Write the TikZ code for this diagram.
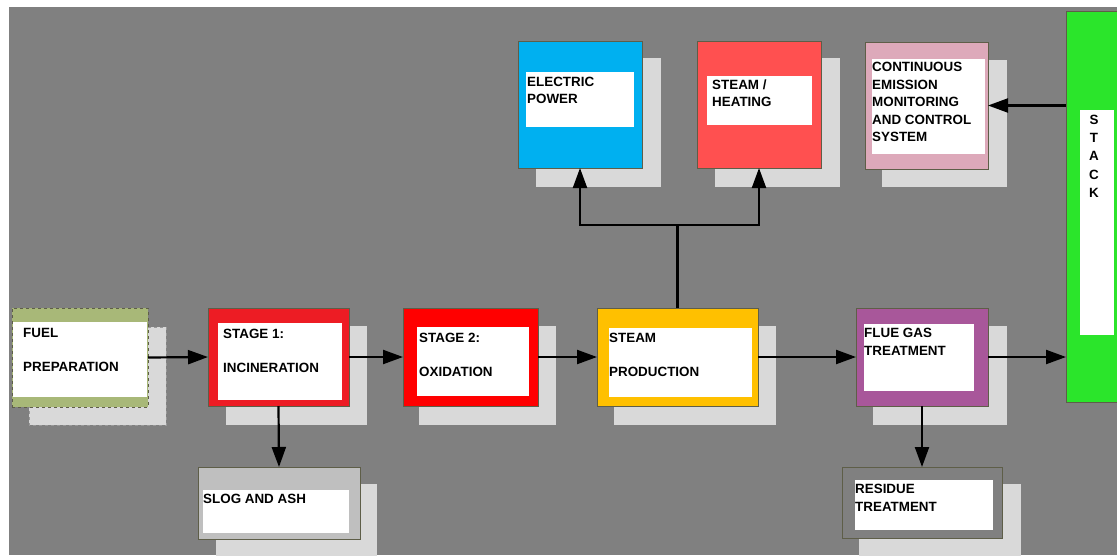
\documentclass[tikz,border=0pt]{standalone}
\usepackage{fontspec}
\setmainfont{Liberation Sans}
\usetikzlibrary{arrows.meta}
\definecolor{bgc}{HTML}{808080}
\definecolor{shadc}{HTML}{D9D9D9}
\definecolor{bordc}{HTML}{5E5E48}
\definecolor{fuelc}{HTML}{A8B878}
\definecolor{stoc}{HTML}{ED1C24}
\definecolor{sttc}{HTML}{FF0000}
\definecolor{steamc}{HTML}{FFC000}
\definecolor{fluec}{HTML}{A8579A}
\definecolor{stackc}{HTML}{2BE52B}
\definecolor{elecc}{HTML}{00B0F0}
\definecolor{heatc}{HTML}{FF5050}
\definecolor{cemsc}{HTML}{DDA9BA}
\definecolor{slogc}{HTML}{BFBFBF}
\begin{document}
\begin{tikzpicture}[x=1pt,y=-1pt,
  box/.style={draw=bordc, line width=1pt, inner sep=0pt, outer sep=0pt},
  shad/.style={fill=shadc},
  inwhite/.style={fill=white},
  lbl/.style={anchor=west, inner sep=0pt, text height=9.7pt, text depth=0pt,
    font=\fontsize{13.4}{15}\selectfont\bfseries, text=black},
  arr/.style={line width=2.2pt, -{Triangle[length=20pt,width=14pt]}},
  conn/.style={line width=2.2pt}]
\useasboundingbox (0,0) rectangle (1117,555);
\clip (0,0) rectangle (1117,555);
\fill[white] (0,0) rectangle (1117,555);
\fill[bgc] (9,7) rectangle (1117,555);

% shadows
\filldraw[shad, draw=gray!80, dashed] (29,327) rectangle (166,425);
\fill[shad] (226,326) rectangle (367,425);
\fill[shad] (419,326) rectangle (556,425);
\fill[shad] (614,326) rectangle (776,425);
\fill[shad] (873,326) rectangle (1007,425);
\fill[shad] (536,58) rectangle (661,187);
\fill[shad] (715,58) rectangle (840,187);
\fill[shad] (882,60) rectangle (1007,187);
\fill[shad] (216,484) rectangle (377,560);
\fill[shad] (859,484) rectangle (1021,560);

% outer boxes
\node[box, dashed, fill=fuelc, minimum width=136pt, minimum height=99pt] (fuel) at (80,357.5) {};
\node[box, fill=stoc, minimum width=141pt, minimum height=98pt] (s1) at (278.5,357) {};
\node[box, fill=sttc, minimum width=135pt, minimum height=98pt] (s2) at (470.5,357) {};
\node[box, fill=steamc, minimum width=161pt, minimum height=98pt] (steam) at (677.5,357) {};
\node[box, fill=fluec, minimum width=132pt, minimum height=98pt] (flue) at (922,357) {};
\node[box, fill=stackc, minimum width=64pt, minimum height=391pt] (stack) at (1098,206.5) {};
\node[box, fill=elecc, minimum width=124pt, minimum height=127pt] (elec) at (580,104.5) {};
\node[box, fill=heatc, minimum width=124pt, minimum height=127pt] (heat) at (759,104.5) {};
\node[box, fill=cemsc, minimum width=123pt, minimum height=127pt] (cems) at (926.5,105.5) {};
\node[box, fill=slogc, minimum width=162pt, minimum height=72pt] (slog) at (279,503) {};
\node[box, fill=bgc, minimum width=160pt, minimum height=71pt] (res) at (922,502.5) {};

% inner white panels
\fill[inwhite] (13,322) rectangle (147,397);
\fill[inwhite] (218,323) rectangle (342,400);
\fill[inwhite] (417,327) rectangle (529,396);
\fill[inwhite] (609,328) rectangle (752,397);
\fill[inwhite] (864,324) rectangle (974,391);
\fill[inwhite] (1080,110) rectangle (1114,335);
\fill[inwhite] (526,72) rectangle (634,127);
\fill[inwhite] (707,76) rectangle (812,125);
\fill[inwhite] (872,59) rectangle (985,154);
\fill[inwhite] (203,490) rectangle (349,533);
\fill[inwhite] (855,480) rectangle (993,530);

% labels
\node[lbl] (tfuel1) at (23,333) {FUEL};
\node[lbl] (tfuel2) at (23,367) {PREPARATION};
\node[lbl] (ts11) at (223,334) {STAGE 1:};
\node[lbl] (ts12) at (223,368) {INCINERATION};
\node[lbl] (ts21) at (419,338) {STAGE 2:};
\node[lbl] (ts22) at (419,372) {OXIDATION};
\node[lbl] (tst1) at (609,338) {STEAM};
\node[lbl] (tst2) at (609,372) {PRODUCTION};
\node[lbl] (tfl1) at (864,333) {FLUE GAS};
\node[lbl] (tfl2) at (864,351) {TREATMENT};
\node[lbl] (tel1) at (527,82) {ELECTRIC};
\node[lbl] (tel2) at (527,99) {POWER};
\node[lbl] (the1) at (712,85) {STEAM /};
\node[lbl] (the2) at (712,102) {HEATING};
\node[lbl] (tc1) at (872,67) {CONTINUOUS};
\node[lbl] (tc2) at (872,84.5) {EMISSION};
\node[lbl] (tc3) at (872,102) {MONITORING};
\node[lbl] (tc4) at (872,119.5) {AND CONTROL};
\node[lbl] (tc5) at (872,137) {SYSTEM};
\node[lbl] (tsl) at (203,499) {SLOG AND ASH};
\node[lbl] (tr1) at (855,489) {RESIDUE};
\node[lbl] (tr2) at (855,507) {TREATMENT};
\node[anchor=north, inner sep=0pt, align=center,
  font=\fontsize{13.4}{18.2}\selectfont\bfseries] (tstack) at (1094,115)
  {S\\T\\A\\C\\K};

% connectors
\draw[arr] (fuel.east) -- (s1.west);
\draw[arr] (s1.east) -- (s2.west);
\draw[arr] (s2.east) -- (steam.west);
\draw[arr] (steam.east) -- (flue.west);
\draw[arr] (flue.east) -- (flue.east -| stack.west);
\draw[arr] (s1.south) -- (slog.north);
\draw[arr] (flue.south) -- (res.north);
\draw[arr] (stack.west |- cems.east) -- (cems.east);
\coordinate (split) at (677.5,225);
\draw[conn] (steam.north) -- (split);
\draw[arr] (split) -| (elec.south);
\draw[arr] (split) -| (heat.south);
\end{tikzpicture}
\end{document}
